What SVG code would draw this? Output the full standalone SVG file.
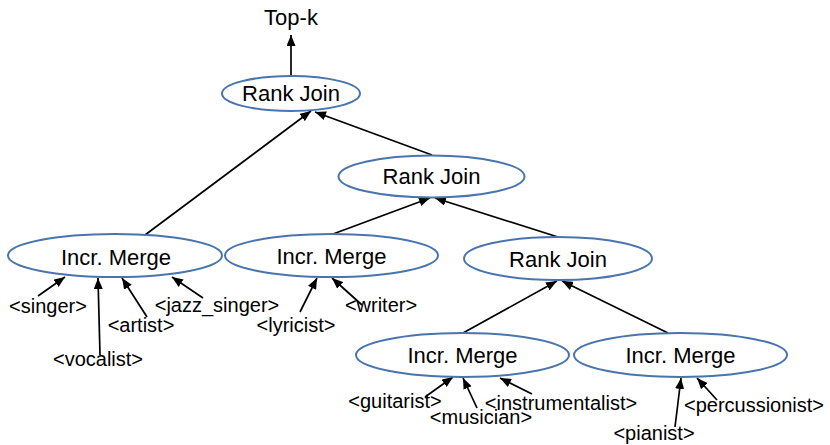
<svg xmlns="http://www.w3.org/2000/svg" width="830" height="445" viewBox="0 0 830 445">
<style>
.node ellipse{fill:#fff;stroke:#4a74ad;stroke-width:2}
.lbl{font-family:"Liberation Sans",Arial,sans-serif;font-size:22px;fill:#000;text-anchor:middle}
.leaf{font-family:"Liberation Sans",Arial,sans-serif;font-size:20px;fill:#000;text-anchor:middle}
#edges line{stroke:#000;stroke-width:1.7;marker-end:url(#ah)}
</style>
<defs>
<marker id="ah" markerUnits="userSpaceOnUse" markerWidth="11" markerHeight="9" refX="11" refY="4.5" orient="auto">
<path d="M0,0 L11,4.5 L0,9 z" fill="#000"/>
</marker>
</defs>
<rect width="830" height="445" fill="#fff"/>
<g id="edges">
<line x1="291" y1="76" x2="291" y2="35"/>
<line x1="145" y1="235" x2="311" y2="111"/>
<line x1="432" y1="155" x2="315" y2="112"/>
<line x1="333" y1="234" x2="430" y2="198"/>
<line x1="558" y1="237" x2="435" y2="198"/>
<line x1="463" y1="333" x2="557" y2="281"/>
<line x1="668" y1="333" x2="562" y2="281"/>
<line x1="38" y1="296" x2="65" y2="277"/>
<line x1="100" y1="355" x2="98" y2="278"/>
<line x1="147" y1="317" x2="122" y2="278"/>
<line x1="203" y1="298" x2="172" y2="277"/>
<line x1="300" y1="312" x2="317" y2="278"/>
<line x1="362" y1="305" x2="332" y2="278"/>
<line x1="425" y1="397" x2="453" y2="377"/>
<line x1="477" y1="408" x2="463" y2="378"/>
<line x1="532" y1="394" x2="500" y2="378"/>
<line x1="675" y1="427" x2="681" y2="378"/>
<line x1="717" y1="400" x2="697" y2="378"/>
</g>
<text class="lbl" x="291" y="25">Top-k</text>
<g id="rj1" class="node"><ellipse cx="291" cy="93.5" rx="69" ry="17.5"/><text class="lbl" x="291" y="101">Rank Join</text></g>
<g id="rj2" class="node"><ellipse cx="431.5" cy="176.5" rx="93" ry="21"/><text class="lbl" x="431.5" y="184">Rank Join</text></g>
<g id="rj3" class="node"><ellipse cx="558" cy="258.5" rx="94" ry="21.5"/><text class="lbl" x="558" y="267">Rank Join</text></g>
<g id="im1" class="node"><ellipse cx="115" cy="255.5" rx="107" ry="21.5"/><text class="lbl" x="116" y="265">Incr. Merge</text></g>
<g id="im2" class="node"><ellipse cx="331.5" cy="255.5" rx="106.5" ry="21.5"/><text class="lbl" x="331.5" y="264">Incr. Merge</text></g>
<g id="im3" class="node"><ellipse cx="462.5" cy="355" rx="106.5" ry="22"/><text class="lbl" x="462.5" y="363">Incr. Merge</text></g>
<g id="im4" class="node"><ellipse cx="680.5" cy="355" rx="106.5" ry="22"/><text class="lbl" x="680.5" y="363">Incr. Merge</text></g>
<g id="leaves">
<text class="leaf" x="48" y="313">&lt;singer&gt;</text>
<text class="leaf" x="98" y="366">&lt;vocalist&gt;</text>
<text class="leaf" x="141" y="332">&lt;artist&gt;</text>
<text class="leaf" x="217" y="312">&lt;jazz_singer&gt;</text>
<text class="leaf" x="296" y="332">&lt;lyricist&gt;</text>
<text class="leaf" x="381" y="312">&lt;writer&gt;</text>
<text class="leaf" x="395" y="408">&lt;guitarist&gt;</text>
<text class="leaf" x="481" y="424">&lt;musician&gt;</text>
<text class="leaf" x="561" y="410">&lt;instrumentalist&gt;</text>
<text class="leaf" x="654" y="440">&lt;pianist&gt;</text>
<text class="leaf" x="754" y="412">&lt;percussionist&gt;</text>
</g>
</svg>
